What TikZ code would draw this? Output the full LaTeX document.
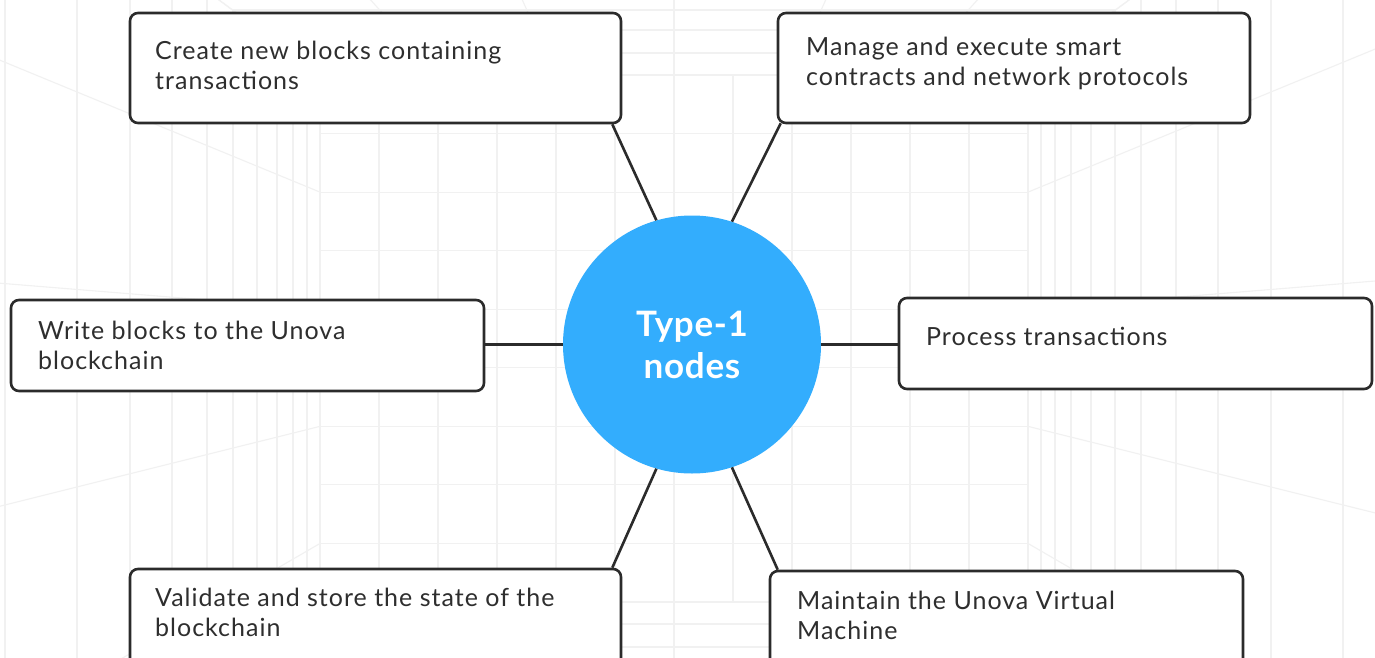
\documentclass[tikz,border=0pt]{standalone}
\usepackage{fontspec}
\setmainfont{Lato}[LetterSpace=4]
\newfontfamily\hubfont{Lato}[LetterSpace=2]
\usetikzlibrary{calc}
\definecolor{boxline}{HTML}{2B2B2B}
\definecolor{txt}{HTML}{2E2E2E}
\definecolor{hub}{HTML}{33ADFD}
\definecolor{gridc}{HTML}{F1F1F1}
\begin{document}
\begin{tikzpicture}[x=1pt,y=-1pt,
  gridline/.style={draw=gridc, line width=1.1pt},
  card/.style={draw=boxline, line width=2.6pt, rounded corners=8pt, fill=white, rectangle, inner sep=0pt},
  cardtext/.style={anchor=base west, inner sep=0pt, text=txt, font=\fontsize{25}{30}\selectfont},
  link/.style={draw=boxline, line width=2.6pt},
  hubnode/.style={circle, fill=hub, minimum size=258pt, inner sep=0pt, text=white, align=center, font=\hubfont\bfseries\fontsize{35}{42}\selectfont}]
\clip (0,0) rectangle (1375,658);
\fill[white] (0,0) rectangle (1375,658);
% background perspective grid
\coordinate (V) at (674,338);
\foreach \k in {0,...,12} \draw[gridline] ({320+59*\k},75) -- ({320+59*\k},602);
\foreach \j in {0,...,9} \draw[gridline] (320,{75+58.556*\j}) -- (1028,{75+58.556*\j});
\foreach \j in {0,2,...,9} {
  \draw[gridline] (320,{75+58.556*\j}) -- ($(V)!6!(320,{75+58.556*\j})$);
  \draw[gridline] (1028,{75+58.556*\j}) -- ($(V)!6!(1028,{75+58.556*\j})$);
}
\foreach \j in {9} {
  \draw[gridline] (320,{75+58.556*\j}) -- ($(V)!6!(320,{75+58.556*\j})$);
  \draw[gridline] (1028,{75+58.556*\j}) -- ($(V)!6!(1028,{75+58.556*\j})$);
}
\foreach \k in {0,2,...,12} {
  \draw[gridline] ({320+59*\k},75) -- ($(V)!6!({320+59*\k},75)$);
  \draw[gridline] ({320+59*\k},602) -- ($(V)!6!({320+59*\k},602)$);
}
\foreach \x in {5,77,130,172,207,233,257,277,293,307} {
  \draw[gridline] (\x,{75-(320-\x)*0.743}) -- (\x,{602+(320-\x)*0.746});
  \draw[gridline] ({1348-\x},{75-(320-\x)*0.743}) -- ({1348-\x},{602+(320-\x)*0.746});
}
\foreach \y in {53,30,10} \draw[gridline] ({320-(75-\y)*1.346},\y) -- ({1028+(75-\y)*1.346},\y);
\foreach \y in {624,647} \draw[gridline] ({320-(\y-602)*1.341},\y) -- ({1028+(\y-602)*1.341},\y);
% hub
\node[hubnode] (c) at (692,344.5) {Type-1\\nodes};
% boxes
\node[card, minimum width=491pt, minimum height=110pt] (b1) at (375.5,68) {};
\node[card, minimum width=472pt, minimum height=110pt] (b2) at (1014,68) {};
\node[card, minimum width=473pt, minimum height=91pt] (b3) at (247.5,345.5) {};
\node[card, minimum width=473pt, minimum height=91pt] (b4) at (1135.5,343.5) {};
\node[card, minimum width=491pt, minimum height=110pt] (b5) at (375.5,624) {};
\node[card, minimum width=473pt, minimum height=110pt] (b6) at (1006.5,626) {};
% connectors
\draw[link] (c.106) -- ([xshift=-10pt]b1.south east);
\draw[link] (c.72) -- ([xshift=4pt,yshift=1pt]b2.south west);
\draw[link] (c.west) -- (c.west -| b3.east);
\draw[link] (c.east) -- (c.east -| b4.west);
\draw[link] (c.254) -- ([xshift=-10pt]b5.north east);
\draw[link] (c.288) -- ([xshift=9pt]b6.north west);
% texts
\node[cardtext] (t1) at (155,60) {\parbox[t]{450pt}{Create new blocks containing\\transactions}};
\node[cardtext] (t2) at (806,56) {\parbox[t]{430pt}{Manage and execute smart\\contracts and network protocols}};
\node[cardtext] (t3) at (38,339) {\parbox[t]{430pt}{Write blocks to the Unova\\blockchain}};
\node[cardtext] (t4) at (926,345) {Process transactions};
\node[cardtext] (t5) at (155,606) {\parbox[t]{450pt}{Validate and store the state of the\\blockchain}};
\node[cardtext] (t6) at (797,609) {\parbox[t]{430pt}{Maintain the Unova Virtual\\Machine}};
\end{tikzpicture}
\end{document}
